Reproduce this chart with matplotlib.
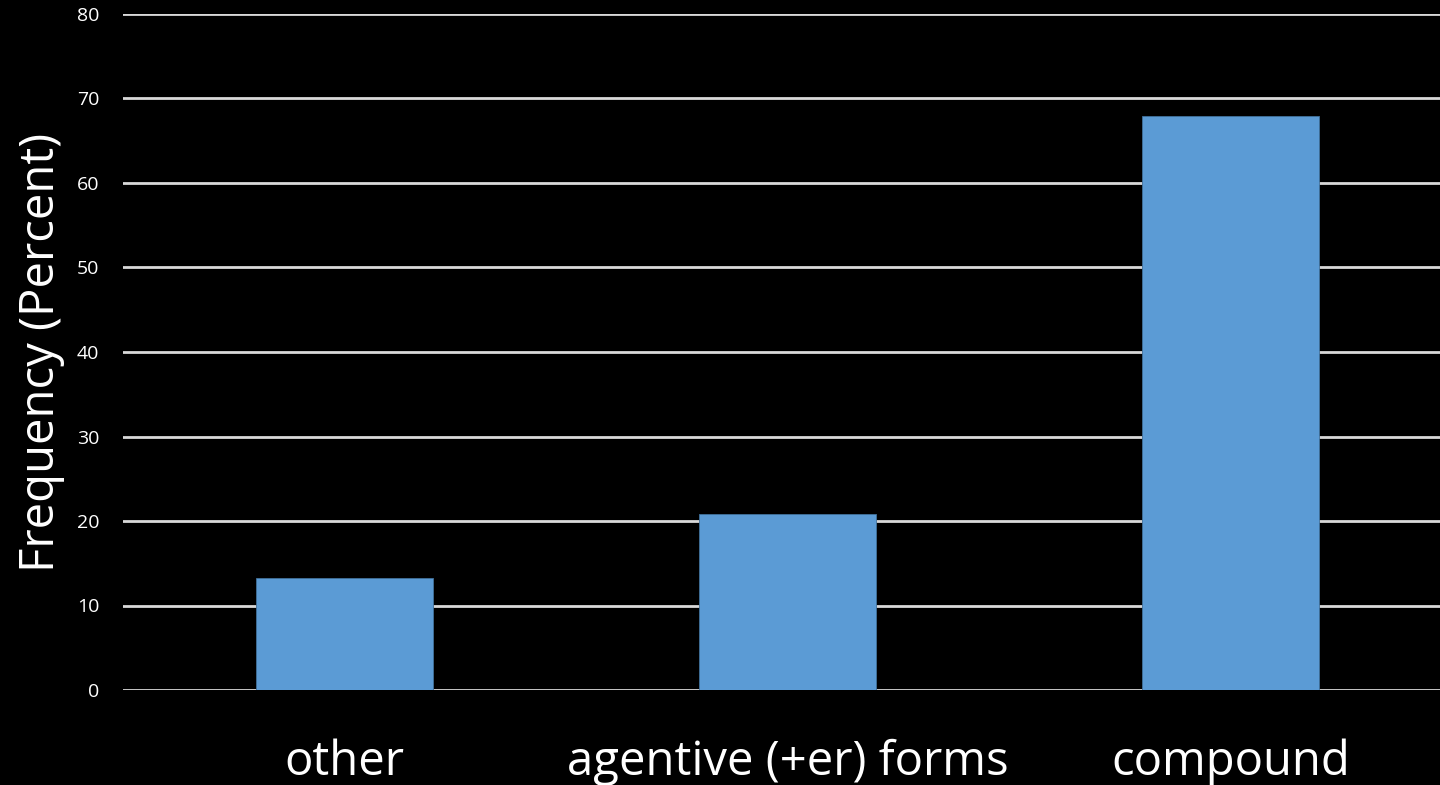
import matplotlib
matplotlib.use("Agg")
import matplotlib.pyplot as plt

categories = ["other", "agentive (+er) forms", "compound"]
values = [13.3, 20.8, 67.9]
yticks = [0, 10, 20, 30, 40, 50, 60, 70, 80]

plt.rcParams['font.family'] = ['Open Sans', 'DejaVu Sans']

fig = plt.figure(figsize=(14.4, 7.85), dpi=100, facecolor='black')
ax = fig.add_axes([123 / 1440, 1 - 690 / 785, 1329 / 1440, 676 / 785])
ax.set_facecolor('black')

ax.bar(range(len(categories)), values, width=0.40, color='#5b9bd5',
       edgecolor='#41719c', linewidth=0.6, zorder=3)

ax.set_xlim(-0.5, 2.5)
ax.set_ylim(0, 80)
ax.set_yticks(yticks)
ax.yaxis.grid(True, color='#d9d9d9', linewidth=2, zorder=0)
ax.set_axisbelow(True)

for s in ax.spines.values():
    s.set_visible(False)

ax.tick_params(axis='y', length=0, pad=17, labelsize=14, labelcolor='white')
ax.set_xticks(range(len(categories)))
ax.set_xticklabels(categories)
ax.tick_params(axis='x', length=0, pad=35, labelsize=34, labelcolor='white')

fig.text(41 / 1440, 1 - 352 / 785, "Frequency (Percent)", rotation=90,
         color='white', fontsize=34, ha='center', va='center')

fig.savefig("out.png", dpi=100, facecolor='black')
